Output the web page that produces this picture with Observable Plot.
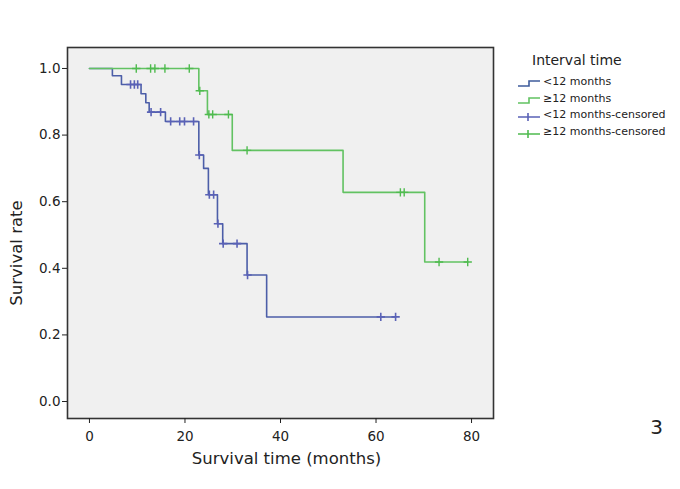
<!DOCTYPE html>
<html>
<head>
<meta charset="utf-8">
<script src="https://cdn.jsdelivr.net/npm/d3@7"></script>
<script src="https://cdn.jsdelivr.net/npm/@observablehq/plot@0.6"></script>
<style>
  html, body { margin: 0; padding: 0; background: #ffffff; }
  #chart { position: relative; width: 680px; height: 489px; }
</style>
</head>
<body>
<div id="chart"></div>
<script>
// Kaplan–Meier steps, group "<12 months"
const blueTime = [0, 4.8, 6.7, 10.8, 11.8, 12.5, 15.9, 22.9, 23.9, 24.9, 26.8, 27.9, 33.0, 37.1, 64.1];
const blueSurv = [1.0, 0.978, 0.952, 0.924, 0.897, 0.869, 0.841, 0.740, 0.700, 0.621, 0.534, 0.474, 0.380, 0.254, 0.254];
const blueCensTime = [8.6, 9.4, 10.1, 12.9, 14.9, 17.0, 18.9, 19.9, 21.8, 23.0, 25.1, 26.0, 26.9, 28.0, 30.9, 33.1, 61.0, 64.1];
const blueCensSurv = [0.952, 0.952, 0.952, 0.869, 0.869, 0.841, 0.841, 0.841, 0.841, 0.740, 0.621, 0.621, 0.534, 0.474, 0.474, 0.380, 0.254, 0.254];

// group "≥12 months"
const greenTime = [0, 22.9, 24.7, 29.9, 53.1, 70.2, 79.2];
const greenSurv = [1.0, 0.933, 0.862, 0.754, 0.628, 0.419, 0.419];
const greenCensTime = [9.8, 12.8, 13.7, 15.8, 20.9, 23.1, 25.0, 25.8, 29.1, 33.0, 65.1, 65.9, 73.2, 79.2];
const greenCensSurv = [1.0, 1.0, 1.0, 1.0, 1.0, 0.933, 0.862, 0.862, 0.862, 0.754, 0.628, 0.628, 0.419, 0.419];

const xTicks = [0, 20, 40, 60, 80];
const yTicks = [0.0, 0.2, 0.4, 0.6, 0.8, 1.0];
const legendTitle = "Interval time";
const legendLabels = ["<12 months", "\u226512 months", "<12 months-censored", "\u226512 months-censored"];
const xLabel = "Survival time (months)";
const yLabel = "Survival rate";
const cornerLabel = "3";

const blueLine = "#4c5ea8";
const greenLine = "#62c262";
const blueCens = "#5a62b6";
const greenCens = "#4fbb4f";

const blue = blueTime.map((t, i) => ({t, s: blueSurv[i]}));
const green = greenTime.map((t, i) => ({t, s: greenSurv[i]}));
const blueC = blueCensTime.map((t, i) => ({t, s: blueCensSurv[i]}));
const greenC = greenCensTime.map((t, i) => ({t, s: greenCensSurv[i]}));

const svg = Plot.plot({
  width: 680,
  height: 489,
  marginLeft: 67,
  marginRight: 187,
  marginTop: 47,
  marginBottom: 71,
  style: {fontFamily: "DejaVu Sans, Verdana, sans-serif", fontSize: "13px", color: "#222", background: "#ffffff"},
  x: {domain: [-4.6, 84.6]},
  y: {domain: [-0.051, 1.063]},
  marks: [
    Plot.frame({fill: "#f0f0f0"}),
    Plot.line(blue, {x: "t", y: "s", curve: "step-after", stroke: blueLine, strokeWidth: 1.6}),
    Plot.line(green, {x: "t", y: "s", curve: "step-after", stroke: greenLine, strokeWidth: 1.6}),
    Plot.dot(blueC, {x: "t", y: "s", symbol: "plus", r: 2.8, stroke: blueCens, strokeWidth: 1.6}),
    Plot.dot(greenC, {x: "t", y: "s", symbol: "plus", r: 2.8, stroke: greenCens, strokeWidth: 1.4}),
    Plot.frame({stroke: "#333", strokeWidth: 1.6}),
    Plot.axisX({ticks: xTicks, tickSize: 5, tickPadding: 8, label: null, fontSize: 13.5}),
    Plot.axisY({ticks: yTicks, tickSize: 5, tickPadding: 2, tickFormat: ".1f", label: null, fontSize: 13.5}),
    Plot.text([xLabel], {frameAnchor: "bottom", textAnchor: "middle", dx: 6, dy: 45, fontSize: 16.5, fill: "#222"}),
    Plot.text([yLabel], {frameAnchor: "left", textAnchor: "middle", lineAnchor: "middle", dx: -51, dy: 20, rotate: -90, fontSize: 16.5, fill: "#222"}),
    Plot.text([cornerLabel], {frameAnchor: "bottom-right", textAnchor: "middle", lineAnchor: "middle", dx: 163, dy: 9, fontSize: 20, fill: "#222"})
  ]
});

// Legend
const g = d3.select(svg).append("g")
  .attr("font-family", "DejaVu Sans, Verdana, sans-serif")
  .attr("text-anchor", "start");
g.append("text").attr("x", 532).attr("y", 65).attr("font-size", 14).attr("fill", "#222").text(legendTitle);
const rowY = [83, 100, 116, 133];
const lineColors = ["#3f5c9c", greenLine];
const censColors = [blueCens, greenCens];
legendLabels.forEach((lab, i) => {
  const y = rowY[i];
  if (i < 2) {
    g.append("path")
      .attr("d", `M518,${y + 3}H529V${y - 2}H540`)
      .attr("fill", "none").attr("stroke", lineColors[i]).attr("stroke-width", 1.6);
  } else {
    g.append("path")
      .attr("d", `M518,${y + 1}H540M528,${y - 3}V${y + 5}`)
      .attr("fill", "none").attr("stroke", censColors[i - 2]).attr("stroke-width", 1.6);
  }
  g.append("text").attr("x", 543).attr("y", y + 2).attr("font-size", 11).attr("fill", "#222").text(lab);
});

document.getElementById("chart").appendChild(svg);
</script>
</body>
</html>
